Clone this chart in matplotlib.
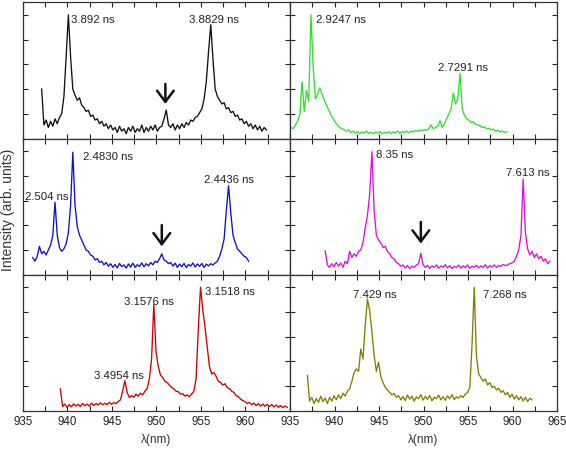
import numpy as np
import matplotlib
matplotlib.use('Agg')
import matplotlib.pyplot as plt

plt.rcParams['font.family'] = ['Liberation Sans', 'DejaVu Sans']

# wavelength grid: start (nm) and step (nm) of each trace
step = 0.25
start_black = 937.1
start_green = 934.85
start_blue = 936.1
start_magenta = 938.95
start_red = 939.2
start_olive = 936.95

# intensities (arb. units)
y_black = [2.0, 0.55, 0.75, 0.45, 0.70, 0.50, 0.80, 0.60, 0.85, 1.0,
           1.7, 3.3, 5.0, 3.3, 2.0, 1.75, 1.55, 1.65, 1.35, 1.25,
           1.10, 1.15, 0.90, 0.95, 0.75, 0.80, 0.60, 0.70, 0.50, 0.60,
           0.40, 0.55, 0.35, 0.45, 0.25, 0.50, 0.30, 0.40, 0.20, 0.45,
           0.30, 0.50, 0.25, 0.40, 0.30, 0.55, 0.25, 0.45, 0.30, 0.50,
           0.35, 0.55, 0.30, 0.45, 0.50, 0.80, 1.15, 0.55, 0.45, 0.60,
           0.35, 0.55, 0.40, 0.60, 0.45, 0.65, 0.55, 0.75, 0.70, 0.85,
           0.90, 1.05, 1.20, 1.60, 2.30, 3.50, 4.60, 3.20, 2.00, 1.70,
           1.55, 1.40, 1.45, 1.20, 1.25, 1.05, 1.10, 0.90, 0.95, 0.75,
           0.80, 0.60, 0.70, 0.50, 0.60, 0.40, 0.55, 0.35, 0.50, 0.30,
           0.45, 0.35]

y_green = [0.40, 0.45, 0.40, 0.55, 0.70, 0.95, 2.30, 1.10, 1.95, 1.50,
           5.0, 2.90, 1.60, 1.80, 2.05, 1.80, 1.55, 1.35, 1.15, 0.95,
           0.80, 0.65, 0.55, 0.45, 0.40, 0.35, 0.30, 0.35, 0.25, 0.30,
           0.22, 0.28, 0.20, 0.27, 0.23, 0.30, 0.21, 0.26, 0.19, 0.27,
           0.22, 0.29, 0.20, 0.25, 0.23, 0.28, 0.21, 0.27, 0.24, 0.30,
           0.22, 0.28, 0.25, 0.31, 0.24, 0.30, 0.27, 0.33, 0.29, 0.35,
           0.31, 0.37, 0.33, 0.40, 0.55, 0.40, 0.45, 0.50, 0.72, 0.45,
           0.60, 0.80, 1.00, 1.20, 1.85, 1.40, 1.60, 2.64, 1.20, 0.95,
           0.80, 0.75, 0.65, 0.68, 0.58, 0.55, 0.52, 0.45, 0.47, 0.40,
           0.42, 0.35, 0.38, 0.30, 0.34, 0.27, 0.31, 0.25, 0.28]

y_blue = [0.70, 0.55, 0.75, 1.15, 0.85, 0.95, 0.80, 1.00, 1.20, 1.60,
          2.93, 1.60, 1.10, 0.95, 1.05, 1.25, 1.70, 2.80, 4.95, 2.80,
          1.95, 1.60, 1.40, 1.20, 1.00, 0.95, 0.80, 0.75, 0.60, 0.65,
          0.50, 0.55, 0.40, 0.50, 0.35, 0.45, 0.30, 0.42, 0.28, 0.46,
          0.33, 0.40, 0.27, 0.44, 0.31, 0.47, 0.30, 0.41, 0.34, 0.48,
          0.32, 0.45, 0.36, 0.50, 0.40, 0.55, 0.50, 0.65, 0.85, 0.60,
          0.55, 0.45, 0.50, 0.35, 0.47, 0.30, 0.43, 0.33, 0.46, 0.29,
          0.42, 0.35, 0.48, 0.31, 0.44, 0.34, 0.46, 0.30, 0.43, 0.36,
          0.45, 0.40, 0.48, 0.55, 0.75, 1.05, 1.45, 2.60, 3.60, 2.50,
          1.60, 1.30, 1.05, 0.95, 0.85, 0.75, 0.70, 0.55]

y_magenta = [0.97, 0.40, 0.30, 0.45, 0.32, 0.50, 0.35, 0.48, 0.30, 0.55,
             0.45, 0.95, 0.70, 0.85, 0.75, 0.95, 1.00, 1.30, 1.90, 2.40,
             3.25, 4.97, 2.60, 1.60, 1.40, 1.30, 1.10, 1.15, 0.95, 0.85,
             0.70, 0.65, 0.50, 0.45, 0.35, 0.40, 0.28, 0.38, 0.25, 0.35,
             0.30, 0.40, 0.45, 0.87, 0.40, 0.30, 0.38, 0.26, 0.36, 0.30,
             0.40, 0.27, 0.35, 0.31, 0.41, 0.28, 0.37, 0.25, 0.34, 0.30,
             0.39, 0.27, 0.36, 0.29, 0.40, 0.26, 0.35, 0.31, 0.38, 0.28,
             0.36, 0.30, 0.41, 0.27, 0.37, 0.32, 0.40, 0.30, 0.38, 0.34,
             0.42, 0.37, 0.40, 0.45, 0.48, 0.55, 0.75, 1.00, 1.60, 3.87,
             1.70, 1.05, 0.80, 0.95, 0.70, 0.85, 0.65, 0.75, 0.55, 0.65,
             0.45, 0.55]

y_red = [0.89, 0.18, 0.28, 0.15, 0.26, 0.17, 0.29, 0.20, 0.27, 0.18,
         0.30, 0.21, 0.28, 0.20, 0.32, 0.22, 0.30, 0.24, 0.33, 0.25,
         0.31, 0.26, 0.35, 0.27, 0.34, 0.30, 0.38, 0.45, 0.80, 1.22,
         0.75, 0.55, 0.62, 0.55, 0.68, 0.60, 0.72, 0.65, 0.80, 0.90,
         1.30, 2.10, 4.32, 2.40, 1.80, 1.45, 1.35, 1.20, 1.15, 1.05,
         0.95, 0.90, 0.80, 0.78, 0.68, 0.70, 0.60, 0.65, 0.58, 0.68,
         0.80, 1.30, 3.30, 5.00, 4.10, 3.40, 2.60, 1.80, 1.50, 1.55,
         1.40, 1.20, 1.15, 1.05, 1.10, 0.95, 0.90, 0.80, 0.75, 0.62,
         0.58, 0.48, 0.42, 0.38, 0.30, 0.35, 0.25, 0.32, 0.22, 0.30,
         0.20, 0.28, 0.19, 0.27, 0.18, 0.26, 0.16, 0.24, 0.15, 0.22,
         0.14, 0.20, 0.15]

y_olive = [1.43, 0.40, 0.55, 0.30, 0.50, 0.35, 0.60, 0.38, 0.52, 0.30,
           0.55, 0.40, 0.62, 0.45, 0.65, 0.50, 0.72, 0.60, 0.80, 0.90,
           1.20, 1.55, 1.70, 1.60, 2.50, 2.10, 3.45, 4.52, 4.05, 3.20,
           2.25, 1.60, 1.97, 1.40, 1.15, 0.95, 0.85, 0.75, 0.65, 0.70,
           0.55, 0.62, 0.45, 0.58, 0.42, 0.65, 0.48, 0.60, 0.40, 0.57,
           0.50, 0.66, 0.44, 0.59, 0.47, 0.63, 0.41, 0.56, 0.49, 0.64,
           0.45, 0.58, 0.43, 0.61, 0.50, 0.66, 0.46, 0.57, 0.52, 0.62,
           0.55, 0.68, 0.75, 0.95, 2.64, 5.00, 2.20, 1.50, 1.35, 1.20,
           1.30, 1.05, 1.15, 0.95, 1.00, 0.85, 0.92, 0.75, 0.82, 0.65,
           0.75, 0.55, 0.68, 0.48, 0.62, 0.45, 0.58, 0.40, 0.55, 0.38,
           0.52, 0.45]

# lifetime labels: (x, y, text)
labels_black = [(940.36, 4.83, '3.892 ns'), (953.65, 4.83, '3.8829 ns')]
labels_green = [(937.9, 4.83, '2.9247 ns'), (951.6, 2.89, '2.7291 ns')]
labels_blue = [(935.2, 3.17, '2.504 ns'), (941.7, 4.79, '2.4830 ns'), (955.3, 3.87, '2.4436 ns')]
labels_magenta = [(944.7, 4.88, '8.35 ns'), (959.3, 4.14, '7.613 ns')]
labels_red = [(943.0, 1.47, '3.4954 ns'), (946.35, 4.46, '3.1576 ns'), (955.5, 4.86, '3.1518 ns')]
labels_olive = [(942.1, 4.73, '7.429 ns'), (956.65, 4.73, '7.268 ns')]

# arrows: (x, y_tail, y_tip)
arrow_black = (951.0, 2.32, 1.29)
arrow_blue = (950.6, 2.12, 1.04)
arrow_magenta = (949.7, 2.25, 1.15)

panels = [
    # (row, col, start, y, color, labels, arrow)
    (0, 0, start_black, y_black, '#111111', labels_black, arrow_black),
    (0, 1, start_green, y_green, '#33dd33', labels_green, None),
    (1, 0, start_blue, y_blue, '#1010cc', labels_blue, arrow_blue),
    (1, 1, start_magenta, y_magenta, '#dd11dd', labels_magenta, arrow_magenta),
    (2, 0, start_red, y_red, '#cc0000', labels_red, None),
    (2, 1, start_olive, y_olive, '#7f7f00', labels_olive, None),
]

fig = plt.figure(figsize=(5.66, 4.52), dpi=100)

left_x = [0.0406, 0.5124]
ax_w = 0.4717
ax_h = 0.3013
row_y = [0.6911, 0.3898, 0.0885]

xticks = np.arange(935, 965.1, 2.5)

for row, col, x0, yv, color, labels, arrow in panels:
    ax = fig.add_axes([left_x[col], row_y[row], ax_w, ax_h])
    x = x0 + step * np.arange(len(yv))
    ax.plot(x, yv, color=color, lw=0.95)

    ax.set_xlim(935, 965)
    ax.set_ylim(0, 5.5)
    ax.set_xticks(xticks)
    ax.set_yticks([1, 2, 3, 4, 5])
    ax.set_yticklabels([])
    ax.tick_params(direction='in', top=True, right=True, length=3.5, width=0.8,
                   labelsize=8.3, colors='#222222', pad=3)
    for sp in ax.spines.values():
        sp.set_linewidth(0.9)
        sp.set_color('#333333')

    if row == 2:
        ticklab = []
        for t in xticks:
            if t % 5 == 0 and not (col == 0 and t == 965):
                ticklab.append('%d' % t)
            else:
                ticklab.append('')
        ax.set_xticklabels(ticklab)
        ax.set_xlabel('\u03bb(nm)', fontsize=8.5, color='#333333', labelpad=4)
    else:
        ax.set_xticklabels([])

    for lx, ly, txt in labels:
        ax.text(lx, ly, txt, fontsize=8.2, color='#222222', va='center', ha='left')

    if arrow is not None:
        ax.annotate('', xy=(arrow[0], arrow[2]), xytext=(arrow[0], arrow[1]),
                    arrowprops=dict(arrowstyle='->,head_length=0.8,head_width=0.6',
                                    lw=1.8, color='#111111'))

fig.text(0.014, 0.535, 'Intensity (arb. units)', rotation=90, fontsize=10,
         color='#333333', ha='center', va='center')

plt.savefig('out.png', dpi=100)
